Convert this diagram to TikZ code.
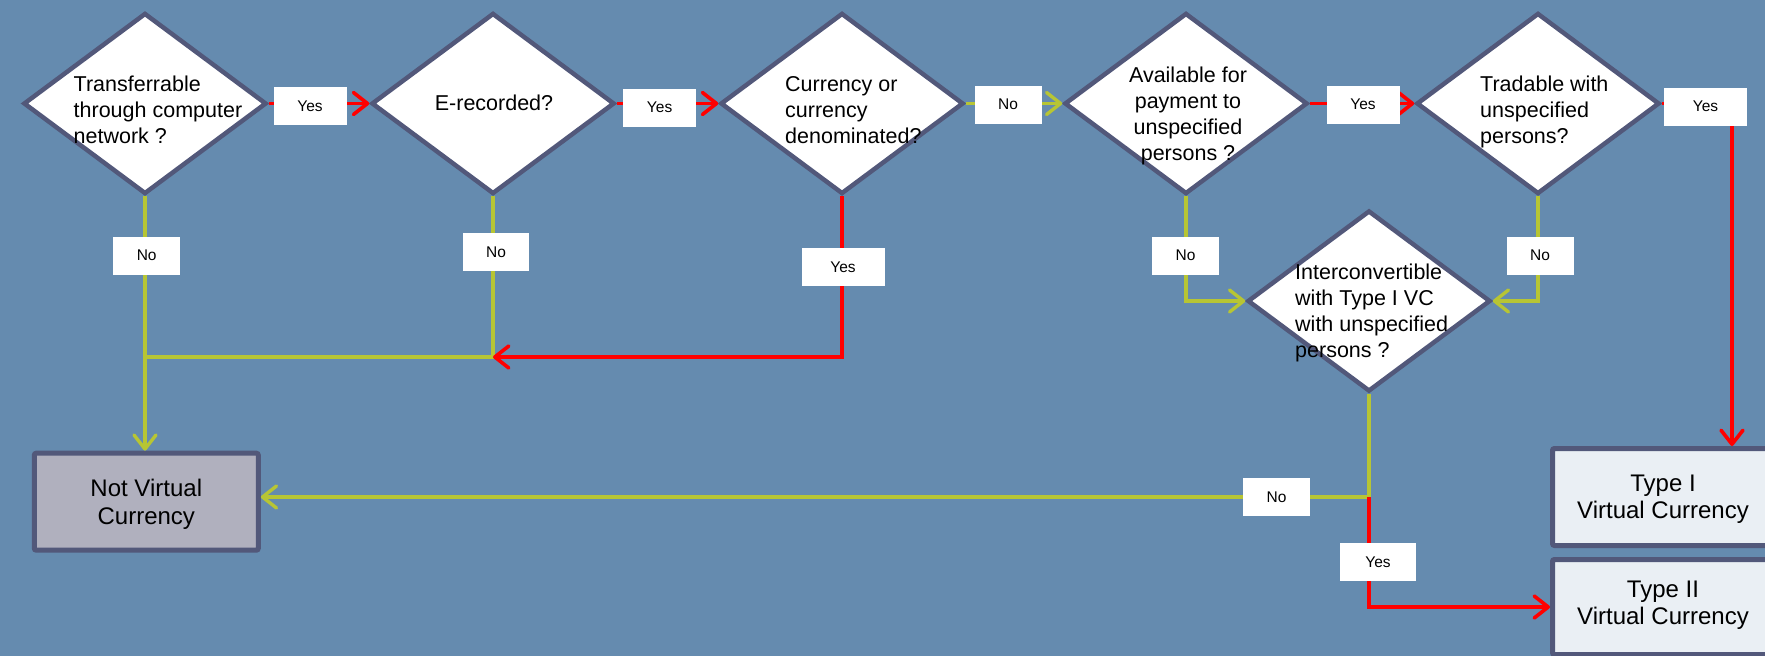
\documentclass[tikz,border=0pt]{standalone}
\usepackage{fontspec}
\setmainfont{Liberation Sans}
\usetikzlibrary{shapes.geometric,arrows.meta}

\definecolor{bgblue}{RGB}{101,139,175}
\definecolor{edgeslate}{RGB}{82,88,122}
\definecolor{yesred}{RGB}{255,0,0}
\definecolor{nogreen}{RGB}{183,197,52}
\definecolor{typefill}{RGB}{234,239,244}
\definecolor{notfill}{RGB}{176,176,190}

\tikzset{
  decision/.style={diamond, draw=edgeslate, line width=4.5pt, fill=white,
    inner sep=0pt, minimum width=243pt, minimum height=181pt},
  question/.style={inner sep=0pt, align=left,
    font=\fontsize{21.5}{26}\selectfont},
  outcome/.style={rectangle, draw=edgeslate, line width=5pt, rounded corners=2pt,
    inner sep=0pt, align=center, font=\fontsize{24}{27}\selectfont},
  answer/.style={fill=white, inner sep=0pt, minimum width=67pt, minimum height=38pt,
    font=\fontsize{15.5}{18}\selectfont},
  tip/.style={-{Straight Barb[length=14pt,width=22pt,round]}},
  yesline/.style={draw=yesred, line width=3.6pt},
  noline/.style={draw=nogreen, line width=3.4pt},
}

\begin{document}
\begin{tikzpicture}[x=1pt,y=-1pt]
\useasboundingbox (0,0) rectangle (1765,656);
\clip (0,0) rectangle (1765,656);
\fill[bgblue] (0,0) rectangle (1765,656);

% decision diamonds
\node[decision] (d1) at (145,103.5) {};
\node[decision] (d2) at (493,103.5) {};
\node[decision] (d3) at (842,103.5) {};
\node[decision] (d4) at (1186,103.5) {};
\node[decision] (d5) at (1538,103.5) {};
\node[decision] (d6) at (1369,301) {};

% questions
\node[question, anchor=west] (q1) at (73.5,110)
  {Transferrable\\through computer\\network ?};
\node[question, anchor=base] (q2) at (494,110) {E-recorded?};
\node[question, anchor=west] (q3) at (785,110)
  {Currency or\\currency\\denominated?};
\node[question, align=center, anchor=center] (q4) at (1188,116)
  {Available for\\payment to\\unspecified\\persons ?};
\node[question, anchor=west] (q5) at (1480,112)
  {Tradable with\\unspecified\\persons?};
\node[question, anchor=west] (q6) at (1295,313)
  {Interconvertible\\with Type I VC\\with unspecified\\persons ?};

% outcomes
\node[outcome, fill=notfill, minimum width=224pt, minimum height=97pt,
  font=\fontsize{24}{28}\selectfont] (nvc) at (146.3,501.7) {};
\node[inner sep=0pt, align=center, font=\fontsize{24}{28}\selectfont]
  (nvctext) at (146.3,504) {Not Virtual\\Currency};
\node[outcome, fill=typefill, minimum width=221pt, minimum height=97pt]
  (t1) at (1663,497) {};
\node[inner sep=0pt, align=center, font=\fontsize{24}{27}\selectfont]
  (t1text) at (1663,499) {Type I\\Virtual Currency};
\node[outcome, fill=typefill, minimum width=221pt, minimum height=95pt]
  (t2) at (1663,607) {};
\node[inner sep=0pt, align=center, font=\fontsize{24}{27}\selectfont]
  (t2text) at (1663,605) {Type II\\Virtual Currency};

% routing points
\coordinate (merge) at (145,357);
\coordinate (split) at (1369,497);
\coordinate (rightrail) at (1732,0);

% connectors along the top row
\draw[yesline, tip] (d1.east) -- (d2.west);
\draw[yesline, tip] (d2.east) -- (d3.west);
\draw[noline, tip] (d3.east) -- (d4.west);
\draw[yesline, tip] (d4.east) -- (d5.west);
\draw[yesline, tip] (d5.east) -| (t1.north -| rightrail);

% "no" branches to the left outcome
\draw[noline, tip] (d1.south) -- (d1.south |- nvc.north);
\draw[noline] (d2.south) -- (d2.south |- merge) -- (merge);
\draw[yesline, tip] (d3.south) |- (d2.south |- merge);

% branches into the interconvertibility question
\draw[noline, tip] (d4.south) |- (d6.west);
\draw[noline, tip] (d5.south) |- (d6.east);

% interconvertibility outcomes
\draw[noline] (d6.south) -- (split);
\draw[noline, tip] (split) -- (nvc.east |- split);
\draw[yesline, tip] (split) |- (t2.west);

% answer tags
\node[answer, minimum width=73pt] (a1) at (310,106) {Yes};
\node[answer, minimum width=73pt] (a2) at (659.6,107.5) {Yes};
\node[answer] (a3) at (1008,104.5) {No};
\node[answer, minimum width=73pt] (a4) at (1363,104.5) {Yes};
\node[answer, minimum width=83pt] (a5) at (1705.5,106.5) {Yes};
\node[answer] (a6) at (146.7,255.5) {No};
\node[answer, minimum width=66pt] (a7) at (496,252) {No};
\node[answer, minimum width=83pt] (a8) at (843,267) {Yes};
\node[answer] (a9) at (1185.5,255.5) {No};
\node[answer] (a10) at (1540,255.5) {No};
\node[answer] (a11) at (1276.5,497) {No};
\node[answer, minimum width=76pt] (a12) at (1378,562) {Yes};
\end{tikzpicture}
\end{document}
